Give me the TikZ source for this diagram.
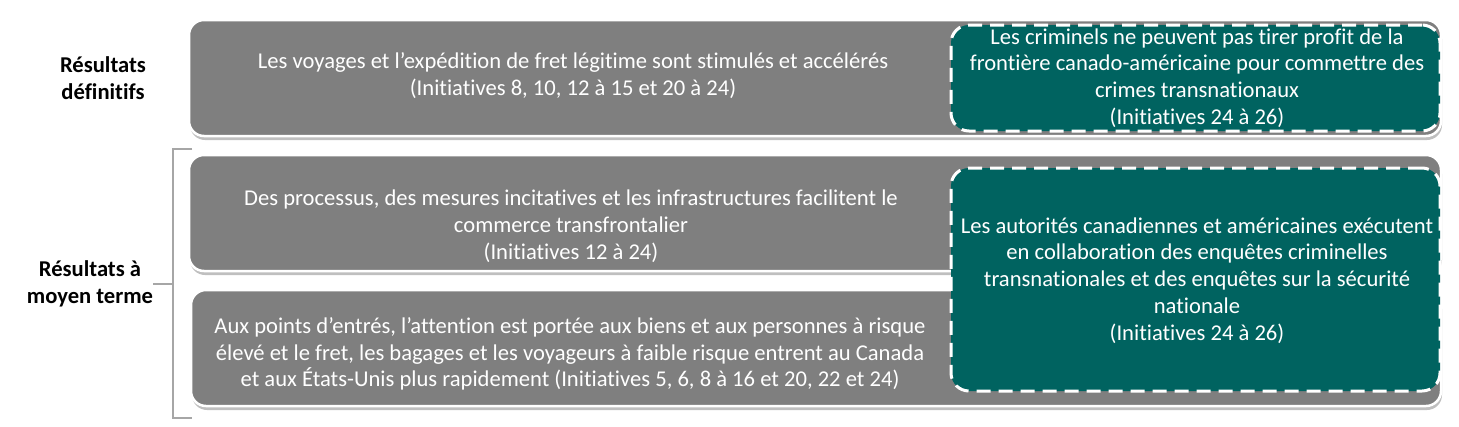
\documentclass[tikz,border=0pt]{standalone}
\usepackage{fontspec}
\setmainfont{Carlito}[Ligatures=CommonOff]
\usetikzlibrary{shadows}
\definecolor{greybox}{RGB}{127,127,127}
\definecolor{tealbox}{RGB}{0,99,96}
\definecolor{bracketc}{RGB}{166,166,166}
\begin{document}
\begin{tikzpicture}[x=1pt,y=-1pt,
  greyrect/.style={fill=greybox, draw=white, line width=2.5pt, rounded corners=15pt,
    minimum height=116pt, inner sep=0pt,
    drop shadow={shadow xshift=1pt, shadow yshift=-4pt, opacity=0.25, fill=black}},
  tealrect/.style={fill=tealbox, draw=white, line width=3pt, dash pattern=on 14pt off 8pt,
    rounded corners=18pt, inner sep=0pt, minimum width=489pt},
  bodytext/.style={text=white, align=center, font=\fontsize{22.6}{26.8}\selectfont, inner sep=0pt},
  labeltext/.style={text=black, align=center, font=\fontsize{22.6}{26.8}\selectfont\bfseries, inner sep=0pt},
  bracketline/.style={draw=bracketc, line width=2pt}
]
\useasboundingbox (0,0) rectangle (1459,426);
\fill[white] (0,0) rectangle (1459,426);

\node[greyrect, minimum width=1252pt] (g1) at (815,78) {};
\node[greyrect, minimum width=1252pt] (g2) at (815,213) {};
\node[greyrect, minimum width=1250pt] (g3) at (816,348) {};

\node[tealrect, minimum height=106pt] (t1) at (1195.5,78) {};
\node[tealrect, minimum height=223pt] (t2) at (1195.5,279.5) {};

\node[bodytext] (g1t) at (573,75.5) {Les voyages et l’expédition de fret légitime sont stimulés et accélérés\\(Initiatives 8, 10, 12 à 15 et 20 à 24)};
\node[bodytext] (g2t) at (571,226) {Des processus, des mesures incitatives et les infrastructures facilitent le\\commerce transfrontalier\\(Initiatives 12 à 24)};
\node[bodytext] (g3t) at (570,354) {Aux points d’entrés, l’attention est portée aux biens et aux personnes à risque\\élevé et le fret, les bagages et les voyageurs à faible risque entrent au Canada\\et aux États-Unis plus rapidement (Initiatives 5, 6, 8 à 16 et 20, 22 et 24)};

\node[bodytext] (t1t) at (1197,78) {Les criminels ne peuvent pas tirer profit de la\\frontière canado-américaine pour commettre des\\crimes transnationaux\\(Initiatives 24 à 26)};
\node[bodytext] (t2t) at (1197,280.5) {Les autorités canadiennes et américaines exécutent\\en collaboration des enquêtes criminelles\\transnationales et des enquêtes sur la sécurité\\nationale\\(Initiatives 24 à 26)};

\node[labeltext] (l1) at (103,78.5) {Résultats\\définitifs};
\node[labeltext] (l2) at (90,283.5) {Résultats à\\moyen terme};

\coordinate (btop) at (192,149);
\coordinate (bbot) at (192,418);
\coordinate (bmid) at (153,284);
\draw[bracketline] (btop) -- (173,149) -- (173,418) -- (bbot);
\draw[bracketline] (bmid) -- (173,284);
\end{tikzpicture}
\end{document}
